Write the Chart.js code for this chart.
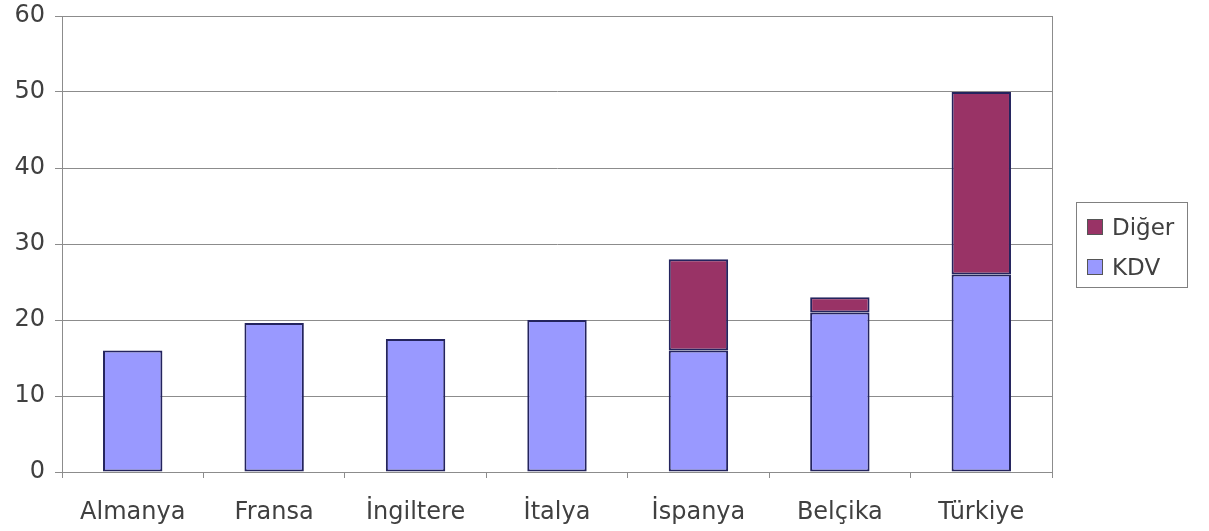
<!DOCTYPE html>
<html>
<head>
<meta charset="utf-8">
<script src="https://cdn.jsdelivr.net/npm/chart.js@4/dist/chart.umd.min.js"></script>
<style>
  html, body { margin: 0; padding: 0; background: #fff; }
  #wrap { position: relative; width: 1209px; height: 531px; }
  #legend {
    position: absolute; left: 1076px; top: 202px; width: 112px; height: 86px;
    border: 1px solid #808080; box-sizing: border-box;
    font-family: "DejaVu Sans", sans-serif; font-size: 23px; color: #404040;
    padding: 4px 0 0 10px;
  }
  #legend div { display: flex; align-items: center; height: 40px; }
  #legend span.box { width: 16px; height: 16px; border: 1px solid #555; margin-right: 9px; box-sizing: border-box; }
</style>
</head>
<body>
<div id="wrap">
  <canvas id="chart" width="1209" height="531"></canvas>
  <div id="legend"></div>
</div>
<script>
// Categories and series
const countries = ['Almanya', 'Fransa', 'İngiltere', 'İtalya', 'İspanya', 'Belçika', 'Türkiye'];
const kdv = [16, 19.6, 17.5, 20, 16, 21, 26];
const diger = [null, null, null, null, 12, 2, 24];
const yTicks = [0, 10, 20, 30, 40, 50, 60];

const kdvColor = '#9999FF';
const digerColor = '#993366';
const edgeColor = '#24245e';
const gridColor = '#8c8c8c';
const textColor = '#404040';

const frame = {
  id: 'frame',
  afterDraw(c) {
    const { ctx, chartArea: a } = c;
    ctx.save();
    ctx.strokeStyle = gridColor;
    ctx.lineWidth = 1;
    ctx.strokeRect(Math.round(a.left) + 0.5, Math.round(a.top) + 0.5,
      Math.round(a.right - a.left), Math.round(a.bottom - a.top));
    ctx.restore();
  },
};

new Chart(document.getElementById('chart'), {
  type: 'bar',
  data: {
    labels: countries,
    datasets: [
      {
        label: 'KDV',
        data: kdv,
        backgroundColor: kdvColor,
        borderColor: edgeColor,
        borderWidth: 2,
        borderSkipped: false,
      },
      {
        label: 'Diğer',
        data: diger,
        backgroundColor: digerColor,
        borderColor: edgeColor,
        borderWidth: 2,
        borderSkipped: false,
      },
    ],
  },
  options: {
    responsive: false,
    animation: false,
    barPercentage: 0.42,
    categoryPercentage: 1,
    layout: {
      padding: { top: 16, right: 157 },
    },
    scales: {
      x: {
        stacked: true,
        afterFit(s) { s.height = 59; },
        grid: {
          offset: true,
          drawOnChartArea: false,
          color: gridColor,
          tickLength: 6,
        },
        border: { color: gridColor },
        ticks: {
          color: textColor,
          padding: 20,
          font: { family: 'DejaVu Sans', size: 24 },
        },
      },
      y: {
        stacked: true,
        min: 0,
        max: 60,
        afterFit(s) {
          s.width = 62;
          s.paddingTop = 0;
          s.paddingBottom = 0;
        },
        afterBuildTicks(s) { s.ticks = yTicks.map(v => ({ value: v })); },
        grid: {
          color: gridColor,
          tickLength: 7,
        },
        border: { color: gridColor },
        ticks: {
          color: textColor,
          padding: 10,
          font: { family: 'DejaVu Sans', size: 24 },
        },
      },
    },
    plugins: {
      legend: { display: false },
      tooltip: { enabled: false },
    },
  },
  plugins: [frame],
});

// Legend lists series in reverse order, like the original
const legend = document.getElementById('legend');
[['Diğer', digerColor], ['KDV', kdvColor]].forEach(([name, col]) => {
  const row = document.createElement('div');
  const box = document.createElement('span');
  box.className = 'box';
  box.style.backgroundColor = col;
  row.appendChild(box);
  row.appendChild(document.createTextNode(name));
  legend.appendChild(row);
});
</script>
</body>
</html>
